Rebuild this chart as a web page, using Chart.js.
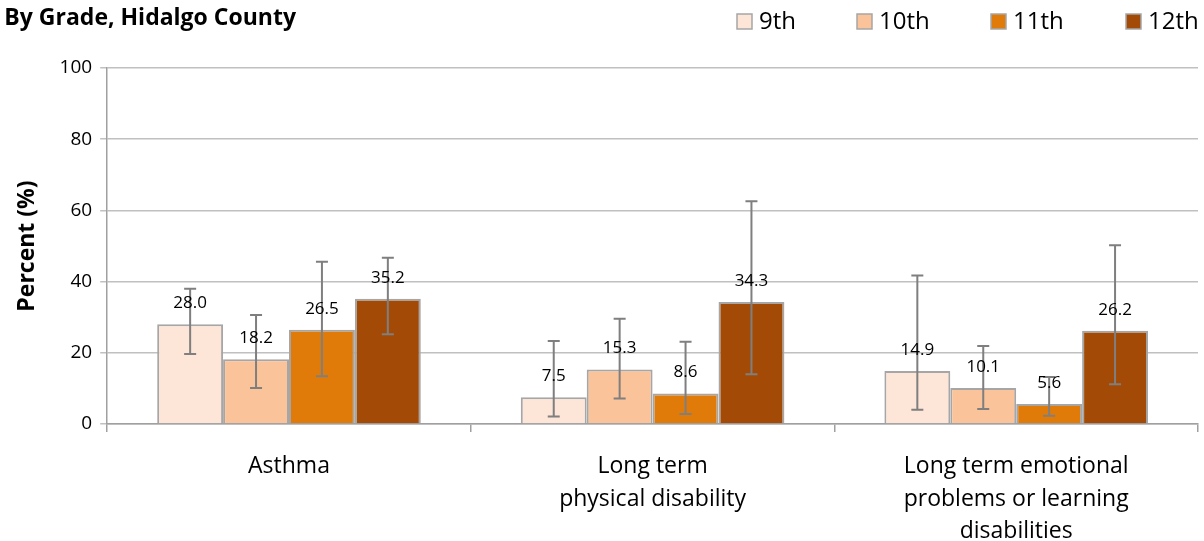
<!DOCTYPE html>
<html>
<head>
<meta charset="utf-8">
<script src="https://cdn.jsdelivr.net/npm/chart.js@4.4.0/dist/chart.umd.min.js"></script>
<style>
  html, body { margin: 0; padding: 0; background: #fff; }
  #wrap { width: 1204px; height: 541px; position: relative; }
</style>
</head>
<body>
<div id="wrap"><canvas id="chart"></canvas></div>
<script>
var categories = ['Asthma', ['Long term', 'physical disability'], ['Long term emotional', 'problems or learning', 'disabilities']];
var grades = ['9th', '10th', '11th', '12th'];
var colors = ['#fde5d8', '#fbc399', '#e07b0a', '#a34b06'];
var values = [
  [28.0, 7.5, 14.9],
  [18.2, 15.3, 10.1],
  [26.5, 8.6, 5.6],
  [35.2, 34.3, 26.2]
];
var lower = [
  [19.7, 2.1, 4.0],
  [10.1, 7.2, 4.2],
  [13.4, 2.8, 2.3],
  [25.2, 14.0, 11.2]
];
var upper = [
  [38.0, 23.3, 41.7],
  [30.6, 29.6, 21.9],
  [45.6, 23.1, 13.2],
  [46.7, 62.6, 50.2]
];
var yTicks = [0, 20, 40, 60, 80, 100];
var FONT = '"Open Sans", "Noto Sans", sans-serif';

var datasets = grades.map(function(g, i){
  return {
    label: g,
    data: values[i],
    backgroundColor: colors[i],
    borderColor: '#a6a6a6',
    borderWidth: 2,
    borderSkipped: 'bottom',
    categoryPercentage: 0.725,
    barPercentage: 1.0
  };
});

// error bars and the value labels above each bar
var extrasPlugin = {
  id: 'extras',
  afterDatasetsDraw: function(chart){
    var ctx = chart.ctx;
    var y = chart.scales.y;
    ctx.save();
    ctx.strokeStyle = '#7f7f7f';
    ctx.lineWidth = 2;
    chart.data.datasets.forEach(function(ds, i){
      chart.getDatasetMeta(i).data.forEach(function(bar, j){
        var yt = y.getPixelForValue(upper[i][j]);
        var yb = y.getPixelForValue(lower[i][j]);
        ctx.beginPath();
        ctx.moveTo(bar.x, yt); ctx.lineTo(bar.x, yb);
        ctx.moveTo(bar.x - 6, yt); ctx.lineTo(bar.x + 6, yt);
        ctx.moveTo(bar.x - 6, yb); ctx.lineTo(bar.x + 6, yb);
        ctx.stroke();
      });
    });
    ctx.fillStyle = '#000';
    ctx.font = '17px ' + FONT;
    ctx.textAlign = 'center';
    ctx.textBaseline = 'middle';
    chart.data.datasets.forEach(function(ds, i){
      chart.getDatasetMeta(i).data.forEach(function(bar, j){
        ctx.fillText(values[i][j].toFixed(1), bar.x, bar.y - 21);
      });
    });
    ctx.restore();
  },
  afterDraw: function(chart){
    var ctx = chart.ctx;
    ctx.save();
    // title, cut off at the left edge like the source
    ctx.fillStyle = '#000';
    ctx.font = 'bold 23px ' + FONT;
    ctx.textAlign = 'right';
    ctx.textBaseline = 'alphabetic';
    ctx.fillText('By Grade, Hidalgo County', 296, 25);
    // legend
    var legendX = [737, 857, 991, 1126];
    ctx.font = '24px ' + FONT;
    ctx.textAlign = 'left';
    ctx.textBaseline = 'middle';
    grades.forEach(function(g, i){
      ctx.fillStyle = colors[i];
      ctx.fillRect(legendX[i], 14, 15, 15);
      ctx.strokeStyle = '#a6a6a6';
      ctx.lineWidth = 1.5;
      ctx.strokeRect(legendX[i], 14, 15, 15);
      ctx.fillStyle = '#000';
      ctx.fillText(g, legendX[i] + 22, 22);
    });
    ctx.restore();
  }
};

new Chart(document.getElementById('chart'), {
  type: 'bar',
  data: { labels: categories, datasets: datasets },
  options: {
    responsive: true,
    maintainAspectRatio: false,
    animation: false,
    layout: { padding: { top: 68, right: 6, left: 14, bottom: -25 } },
    plugins: {
      legend: { display: false },
      tooltip: { enabled: false }
    },
    scales: {
      x: {
        grid: { offset: true, drawOnChartArea: false, drawTicks: true, tickLength: 8, color: '#a0a0a0', lineWidth: 1.5 },
        border: { color: '#a0a0a0', width: 1.5 },
        ticks: { color: '#000', font: { family: FONT, size: 23, lineHeight: 1.42 }, padding: 18, maxRotation: 0, autoSkip: false }
      },
      y: {
        min: 0,
        max: 100,
        afterBuildTicks: function(axis){
          axis.ticks = yTicks.map(function(v){ return { value: v }; });
        },
        grid: { color: '#c0c0c0', lineWidth: 1.5, tickLength: 7 },
        border: { color: '#a0a0a0', width: 1.5 },
        ticks: { color: '#000', font: { family: FONT, size: 19 }, padding: 8 },
        title: { display: true, text: 'Percent (%)', color: '#000', font: { family: FONT, size: 23, weight: 'bold' }, padding: { top: 0, bottom: 10 } }
      }
    }
  },
  plugins: [extrasPlugin]
});
</script>
</body>
</html>
